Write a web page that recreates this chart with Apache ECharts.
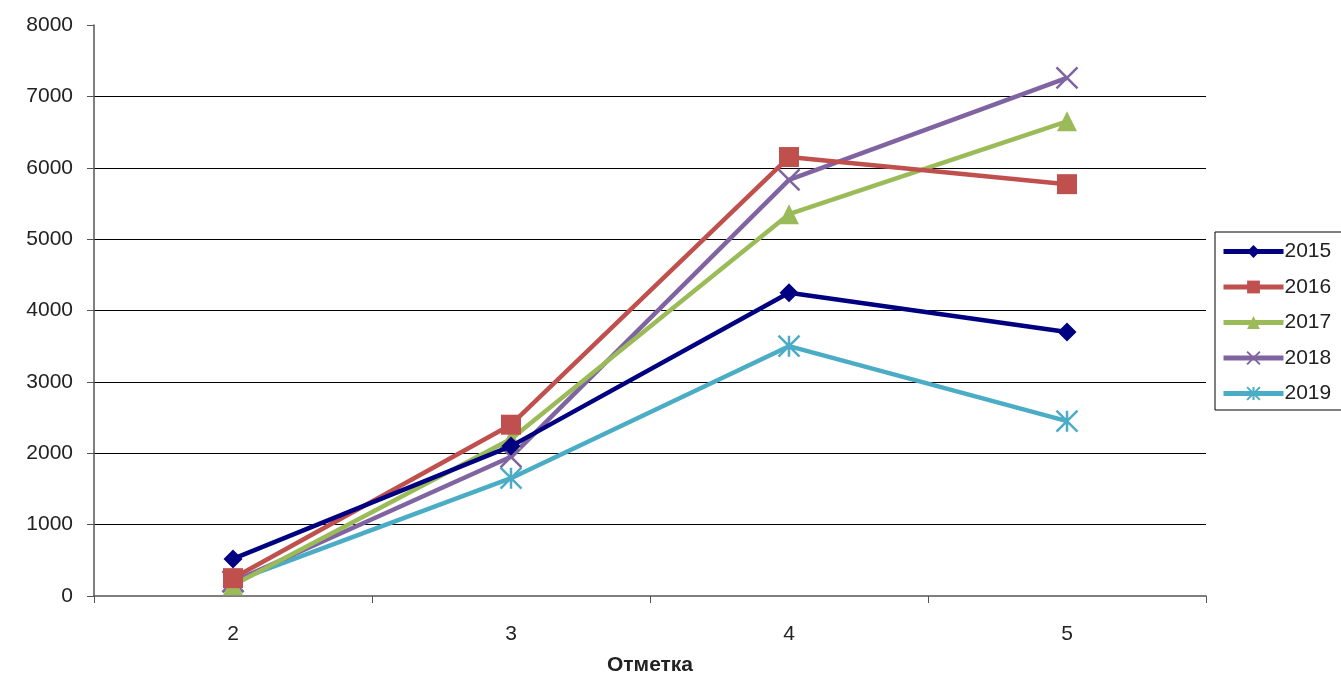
<!DOCTYPE html>
<html><head><meta charset="utf-8">
<script src="https://cdn.jsdelivr.net/npm/echarts@6/dist/echarts.min.js"></script>
<style>html,body{margin:0;padding:0;background:#fff}#c{width:1341px;height:678px}</style>
</head><body><div id="c"></div>
<script>
const categories = ['2', '3', '4', '5'];
const seriesNames = ['2015', '2016', '2017', '2018', '2019'];
const v2015 = [520, 2100, 4250, 3700];
const v2016 = [250, 2400, 6150, 5770];
const v2017 = [150, 2200, 5350, 6650];
const v2018 = [200, 1950, 5830, 7260];
const v2019 = [200, 1650, 3500, 2450];
const yTicks = [0, 1000, 2000, 3000, 4000, 5000, 6000, 7000, 8000];

const colors = ['#000080', '#C0504D', '#9BBB59', '#8064A2', '#4BACC6'];
const symbols = [
  'diamond',
  'rect',
  'triangle',
  'path://M0,0L10,10M10,0L0,10',
  'path://M0,0L10,10M10,0L0,10M5,0L5,10'
];
const symbolSizes = [19, 20, 20, 21, 21];
const allData = [v2015, v2016, v2017, v2018, v2019];

const series = seriesNames.map((n, i) => {
  const open = i >= 3;
  return {
    name: n,
    type: 'line',
    data: allData[i],
    symbol: symbols[i],
    symbolSize: symbolSizes[i],
    showAllSymbol: true,
    lineStyle: { color: colors[i], width: 4.5 },
    itemStyle: open ? { color: 'rgba(0,0,0,0)', borderColor: colors[i], borderWidth: 2.5 } : { color: colors[i], borderWidth: 0 },
    emphasis: { disabled: true },
    z: 10 - i
  };
});

const chart = echarts.init(document.getElementById('c'), null, { renderer: 'canvas' });
chart.setOption({
  animation: false,
  backgroundColor: '#fff',
  color: colors,
  grid: { left: 94, right: 135, top: 25, bottom: 82, containLabel: false, outerBoundsMode: 'none' },
  legend: {
    orient: 'vertical',
    left: 1215,
    top: 232,
    data: seriesNames.map((n, i) => ({ name: n, itemStyle: i >= 3 ? { color: 'rgba(0,0,0,0)', borderColor: colors[i], borderWidth: 2 } : { color: colors[i] } })),
    itemWidth: 60,
    itemHeight: 16,
    itemGap: 14.5,
    lineStyle: { width: 5 },
    padding: [9, 20, 6, 6],
    borderColor: '#000',
    borderWidth: 1,
    textStyle: { fontFamily: 'Liberation Sans, Arial', fontSize: 21, color: '#222', padding: [0, 0, 0, -4] }
  },
  xAxis: {
    type: 'category',
    data: categories,
    boundaryGap: true,
    name: 'Отметка',
    nameLocation: 'middle',
    nameGap: 59,
    nameTextStyle: { fontFamily: 'Liberation Sans, Arial', fontSize: 21, fontWeight: 'bold', color: '#222' },
    axisLine: { lineStyle: { color: '#555', width: 1.5 } },
    axisTick: { show: true, length: 7, alignWithLabel: false, lineStyle: { color: '#555' } },
    axisLabel: { fontFamily: 'Liberation Sans, Arial', fontSize: 21, color: '#222', margin: 28 },
    splitLine: { show: false }
  },
  yAxis: {
    type: 'value',
    min: yTicks[0],
    max: yTicks[yTicks.length - 1],
    interval: 1000,
    axisLine: { show: true, lineStyle: { color: '#555', width: 1.5 } },
    axisTick: { show: true, length: 7, lineStyle: { color: '#555' } },
    axisLabel: { fontFamily: 'Liberation Sans, Arial', fontSize: 21, color: '#222', margin: 21, formatter: v => String(v) },
    splitLine: { show: true, showMaxLine: false, showMinLine: false, lineStyle: { color: '#000', width: 1 } }
  },
  series: series
});
</script></body></html>
